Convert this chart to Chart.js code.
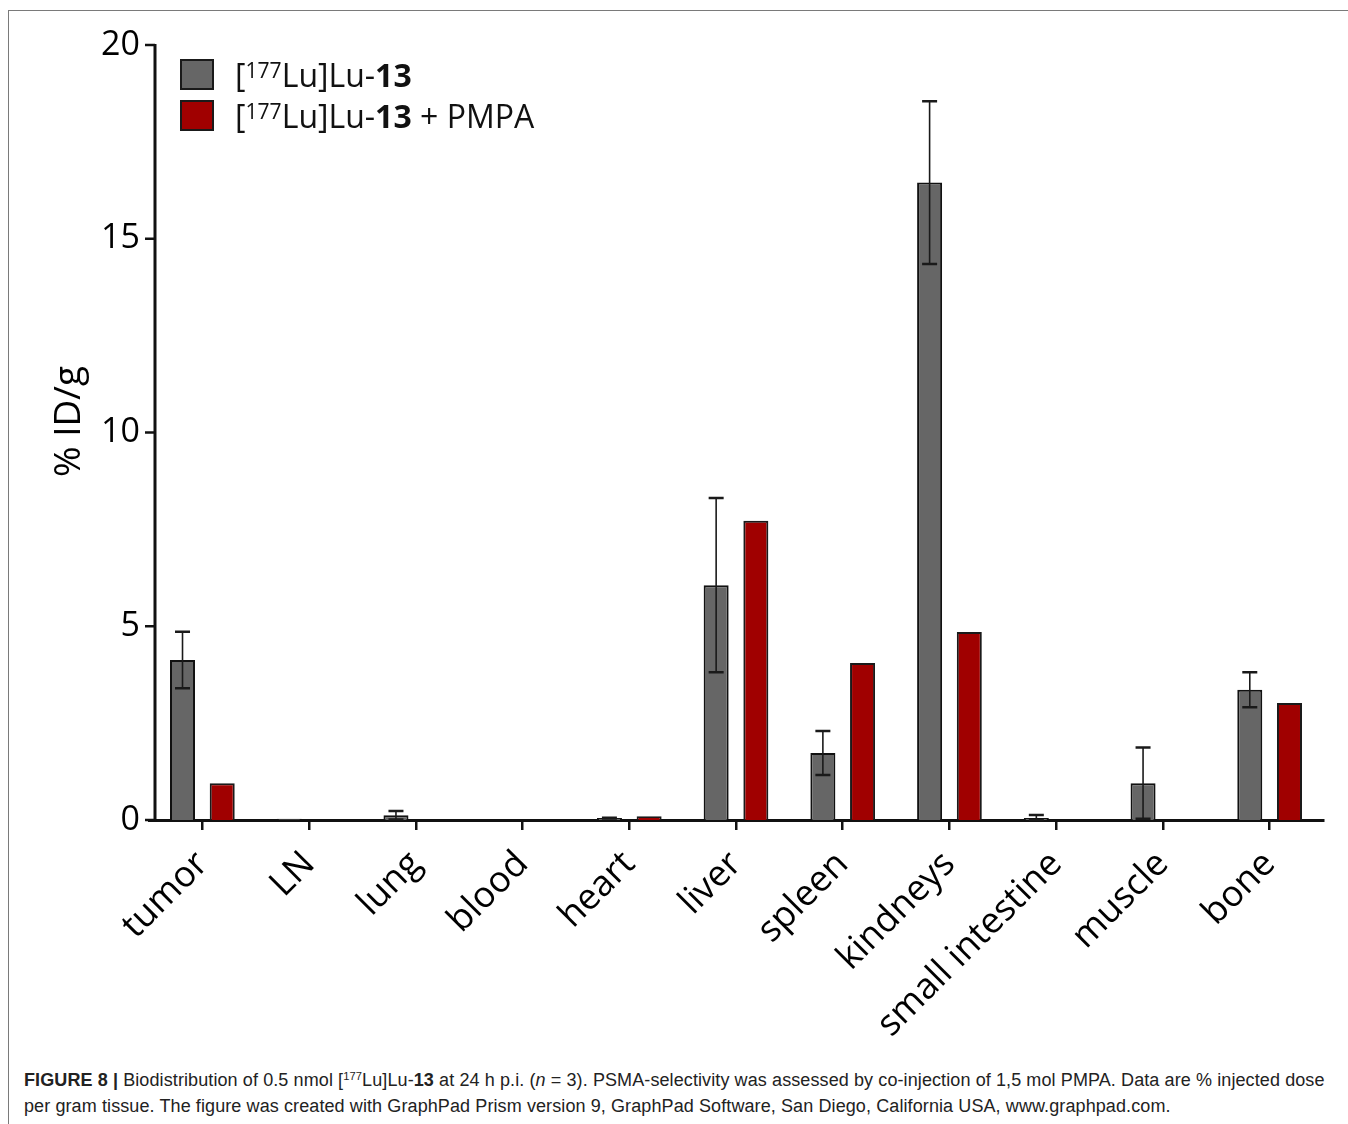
<!DOCTYPE html>
<html>
<head>
<meta charset="utf-8">
<script src="https://cdn.jsdelivr.net/npm/chart.js@4.4.1/dist/chart.umd.min.js"></script>
<style>
  html, body { margin: 0; padding: 0; background: #fff; }
  body { width: 1348px; height: 1124px; position: relative; overflow: hidden; font-family: "Open Sans", sans-serif; }
  #frame { position: absolute; left: 8px; top: 10px; right: -10px; bottom: -10px;
           border-top: 1.5px solid #7a7a7a; border-left: 1.5px solid #7a7a7a; }
  #wrap { position: absolute; left: 0; top: 0; width: 1348px; height: 1060px; }
  #legend { position: absolute; left: 180px; top: 54px; font-size: 32px; color: #111; }
  .row { display: flex; align-items: center; height: 41px; white-space: nowrap; }
  .sw { width: 30px; height: 27px; border: 2px solid #1a1a1a; margin-right: 21px; }
  #legend sup { font-size: 0.66em; vertical-align: 0.42em; line-height: 0; }
  #caption { position: absolute; left: 24px; top: 1067px; font-family: "Liberation Sans", Arial, sans-serif;
             font-size: 18px; letter-spacing: 0.1px; line-height: 26px; color: #222; white-space: nowrap; }
  #caption sup { font-size: 0.62em; vertical-align: 0.5em; line-height: 0; }
</style>
</head>
<body>
<div id="frame"></div>
<div id="wrap"><canvas id="chart" width="1348" height="1060"></canvas></div>
<div id="legend">
  <div class="row"><div class="sw" style="background:#666666"></div><span>[<sup>177</sup>Lu]Lu-<b>13</b></span></div>
  <div class="row"><div class="sw" style="background:#a00000"></div><span>[<sup>177</sup>Lu]Lu-<b>13</b> + PMPA</span></div>
</div>
<div id="caption">
  <b>FIGURE 8 |</b> Biodistribution of 0.5 nmol [<sup>177</sup>Lu]Lu-<b>13</b> at 24 h p.i. (<i>n</i> = 3). PSMA-selectivity was assessed by co-injection of 1,5 mol PMPA. Data are % injected dose<br>
  per gram tissue. The figure was created with GraphPad Prism version 9, GraphPad Software, San Diego, California USA, www.graphpad.com.
</div>
<script>
// Organs sampled at 24 h p.i.
const organs = ['tumor', 'LN', 'lung', 'blood', 'heart', 'liver', 'spleen', 'kindneys', 'small intestine', 'muscle', 'bone'];

// %ID/g, mean and SD for [177Lu]Lu-13
const lu13 = [4.13, 0.03, 0.12, 0, 0.05, 6.06, 1.73, 16.45, 0.05, 0.95, 3.36];
const lu13Sd = [0.73, 0, 0.11, 0, 0.01, 2.25, 0.57, 2.1, 0.08, 0.92, 0.45];

// %ID/g for [177Lu]Lu-13 co-injected with PMPA
const lu13Pmpa = [0.95, 0, 0, 0, 0.1, 7.72, 4.05, 4.85, 0, 0, 3.02];

// y-axis ticks and title
const yTicks = [0, 5, 10, 15, 20];
const yTitle = '% ID/g';

Chart.defaults.font.family = '"Open Sans", sans-serif';

// Y axis drawn slightly inside the plot area, its title, and SD whiskers for the first series
const axisAndErrors = {
  id: 'axisAndErrors',
  afterDatasetsDraw(chart) {
    const { ctx, chartArea, scales: { y } } = chart;
    const ax = chartArea.left + 6;
    ctx.save();
    ctx.strokeStyle = '#111';
    ctx.lineWidth = 3;
    ctx.beginPath();
    ctx.moveTo(ax, y.getPixelForValue(y.max) - 1);
    ctx.lineTo(ax, chartArea.bottom + 1.5);
    ctx.stroke();
    ctx.lineWidth = 2.5;
    y.ticks.forEach(t => {
      const py = y.getPixelForValue(t.value);
      ctx.beginPath();
      ctx.moveTo(ax - 10, py);
      ctx.lineTo(ax, py);
      ctx.stroke();
    });

    // rotated axis title
    ctx.save();
    ctx.translate(69, (chartArea.top + chartArea.bottom) / 2 - 11);
    ctx.rotate(-Math.PI / 2);
    ctx.fillStyle = '#000';
    ctx.font = '37px "Open Sans", sans-serif';
    ctx.textAlign = 'center';
    ctx.textBaseline = 'middle';
    ctx.fillText(yTitle, 0, 0);
    ctx.restore();

    const meta = chart.getDatasetMeta(0);
    ctx.strokeStyle = '#1a1a1a';
    meta.data.forEach((bar, i) => {
      const sd = lu13Sd[i];
      if (!sd) return;
      const v = lu13[i];
      const top = y.getPixelForValue(v + sd);
      const bot = y.getPixelForValue(Math.max(0, v - sd));
      ctx.lineWidth = 1.6;
      ctx.beginPath();
      ctx.moveTo(bar.x, top);
      ctx.lineTo(bar.x, bot);
      ctx.stroke();
      ctx.lineWidth = 2.5;
      ctx.beginPath();
      ctx.moveTo(bar.x - 7.5, top);
      ctx.lineTo(bar.x + 7.5, top);
      ctx.moveTo(bar.x - 7.5, bot);
      ctx.lineTo(bar.x + 7.5, bot);
      ctx.stroke();
    });
    ctx.restore();
  }
};

new Chart(document.getElementById('chart'), {
  type: 'bar',
  data: {
    labels: organs,
    datasets: [
      { label: '[177Lu]Lu-13', data: lu13, backgroundColor: '#666666', borderColor: '#111', borderWidth: 2,
        categoryPercentage: 0.744, barPercentage: 0.63 },
      { label: '[177Lu]Lu-13 + PMPA', data: lu13Pmpa, backgroundColor: '#a00000', borderColor: '#1a1a1a', borderWidth: 2,
        categoryPercentage: 0.744, barPercentage: 0.63 }
    ]
  },
  options: {
    responsive: false,
    animation: false,
    devicePixelRatio: 1,
    layout: { padding: { top: 45, right: 25, left: 0, bottom: 0 } },
    plugins: { legend: { display: false }, tooltip: { enabled: false } },
    scales: {
      x: {
        grid: { display: true, drawOnChartArea: false, offset: false, drawTicks: true, tickLength: 10, color: '#111', lineWidth: 2.5 },
        border: { display: true, color: '#111', width: 3 },
        ticks: { autoSkip: false, minRotation: 45, maxRotation: 45, color: '#000', font: { size: 36 }, padding: 13 },
        afterFit(s) { s.height = 240; }
      },
      y: {
        min: 0, max: 20,
        afterBuildTicks(s) { s.ticks = yTicks.map(v => ({ value: v })); },
        grid: { display: false, drawTicks: false },
        border: { display: false },
        ticks: { color: '#000', font: { size: 34 }, padding: 9 },
        afterFit(s) { s.width = 149; }
      }
    }
  },
  plugins: [axisAndErrors]
});
</script>
</body>
</html>
